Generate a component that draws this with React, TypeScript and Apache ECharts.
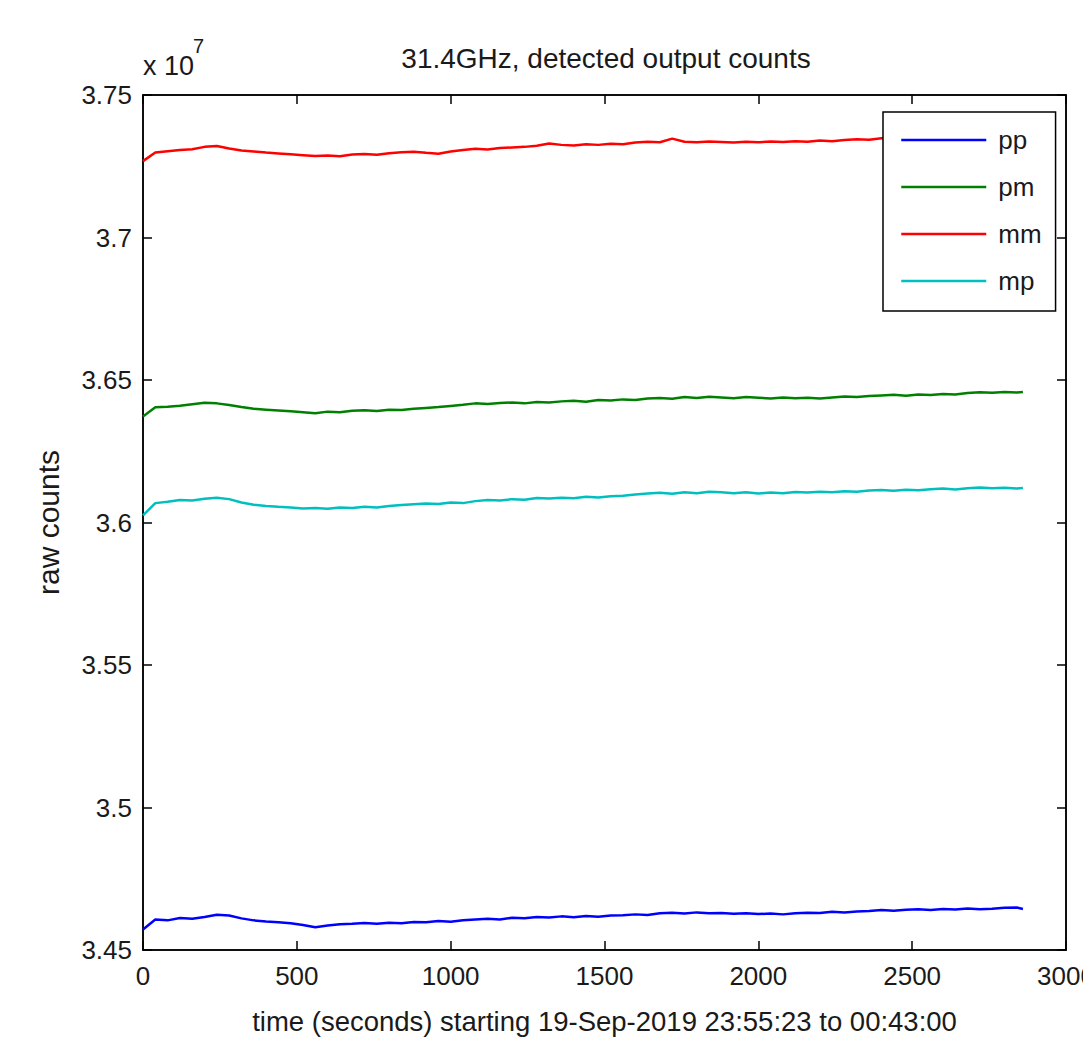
import React, { useEffect, useRef } from "react";
import * as echarts from "echarts";

// time in seconds
const timeSec = [
  0, 40, 80, 120, 160, 200, 240, 280, 320, 360, 400, 440, 480, 520, 560, 600, 640, 680, 720, 760,
  800, 840, 880, 920, 960, 1000, 1040, 1080, 1120, 1160, 1200, 1240, 1280, 1320, 1360, 1400, 1440,
  1480, 1520, 1560, 1600, 1640, 1680, 1720, 1760, 1800, 1840, 1880, 1920, 1960, 2000, 2040, 2080,
  2120, 2160, 2200, 2240, 2280, 2320, 2360, 2400, 2440, 2480, 2520, 2560, 2600, 2640, 2680, 2720,
  2760, 2800, 2840, 2860,
];

// raw counts, in units of 10^7
const ppCounts = [
  3.4572, 3.4607, 3.4604, 3.4612, 3.461, 3.4616, 3.4624, 3.4621, 3.4611, 3.4604, 3.46, 3.4597,
  3.4594, 3.4588, 3.458, 3.4586, 3.459, 3.4592, 3.4595, 3.4592, 3.4596, 3.4594, 3.4598, 3.4597,
  3.4602, 3.4599, 3.4604, 3.4607, 3.461, 3.4607, 3.4613, 3.4611, 3.4616, 3.4614, 3.4618, 3.4615,
  3.4619, 3.4617, 3.4621, 3.4622, 3.4625, 3.4623, 3.4629, 3.4631, 3.4628, 3.4632, 3.4629, 3.463,
  3.4627, 3.4629, 3.4626, 3.4628, 3.4625, 3.4629, 3.4631, 3.463, 3.4634, 3.4632, 3.4635, 3.4637,
  3.464, 3.4638, 3.4641, 3.4643, 3.464, 3.4644, 3.4642, 3.4646, 3.4643, 3.4645, 3.4648, 3.4649,
  3.4644,
];
const pmCounts = [
  3.6372, 3.6404, 3.6406, 3.641, 3.6415, 3.642, 3.6418, 3.6412, 3.6405, 3.6399, 3.6396, 3.6393,
  3.639, 3.6387, 3.6383, 3.6389, 3.6387, 3.6392, 3.6394, 3.6391, 3.6396, 3.6395, 3.6399, 3.6402,
  3.6405, 3.6409, 3.6413, 3.6418, 3.6416, 3.6419, 3.6421, 3.6418, 3.6423, 3.6421, 3.6425, 3.6427,
  3.6424, 3.643, 3.6428, 3.6432, 3.643, 3.6435, 3.6437, 3.6434, 3.644, 3.6437, 3.6441, 3.6439,
  3.6436, 3.644, 3.6438, 3.6435, 3.6439, 3.6436, 3.6438, 3.6435, 3.6439, 3.6442, 3.644, 3.6444,
  3.6446, 3.6448, 3.6445, 3.6449, 3.6447, 3.6451, 3.6449, 3.6454, 3.6457, 3.6455, 3.6458, 3.6456,
  3.6458,
];
const mmCounts = [
  3.7268, 3.7298, 3.7303, 3.7307, 3.731, 3.7318, 3.7321, 3.7312, 3.7305, 3.7302, 3.7298, 3.7295,
  3.7292, 3.7289, 3.7286, 3.7288, 3.7285, 3.7291, 3.7293, 3.729, 3.7296, 3.7299, 3.7301, 3.7297,
  3.7294, 3.7302, 3.7307, 3.7311, 3.7309, 3.7314, 3.7316, 3.7318, 3.7322, 3.733, 3.7325, 3.7323,
  3.7327, 3.7325, 3.7329, 3.7327, 3.7333, 3.7336, 3.7334, 3.7347, 3.7336, 3.7334, 3.7337, 3.7335,
  3.7333, 3.7336, 3.7334, 3.7337, 3.7335, 3.7338, 3.7336, 3.734, 3.7338, 3.7342, 3.7345, 3.7343,
  3.7348, 3.735, 3.7352, 3.7351, 3.7354, 3.7353, 3.7356, 3.7355, 3.7358, 3.7357, 3.7359, 3.736,
  3.7358,
];
const mpCounts = [
  3.6025, 3.6068, 3.6073, 3.6079, 3.6077, 3.6083, 3.6087, 3.6082, 3.607, 3.6062, 3.6058, 3.6055,
  3.6053, 3.6049, 3.6051, 3.6048, 3.6053, 3.6051, 3.6055, 3.6053, 3.6058, 3.6061, 3.6064, 3.6067,
  3.6065, 3.607, 3.6068, 3.6075, 3.6079, 3.6077, 3.6082, 3.608, 3.6086, 3.6084, 3.6087, 3.6085,
  3.609, 3.6088, 3.6092, 3.6094, 3.6098, 3.6102, 3.6104, 3.6101, 3.6106, 3.6103, 3.6108, 3.6106,
  3.6103, 3.6106, 3.6102, 3.6105, 3.6103, 3.6107, 3.6105, 3.6108, 3.6106, 3.611, 3.6108, 3.6112,
  3.6114, 3.6111, 3.6115, 3.6113, 3.6117, 3.6119, 3.6116, 3.612, 3.6123, 3.612, 3.6122, 3.6119,
  3.6121,
];

const seriesNames = ["pp", "pm", "mm", "mp"];
const seriesColors = ["#0000ff", "#008000", "#ff0000", "#00bfbf"];
const seriesValues = [ppCounts, pmCounts, mmCounts, mpCounts];

const FONT = "Liberation Sans, Arial, sans-serif";
const TXT = "#1a1a1a";

export default function App() {
  const ref = useRef<HTMLDivElement>(null);
  useEffect(() => {
    if (!ref.current) return;
    const chart = echarts.init(ref.current, null, { renderer: "svg" });
    const tickStyle = { show: true, inside: true, length: 9, lineStyle: { color: "#000", width: 1.5 } };
    const axisLine = { show: true, onZero: false, lineStyle: { color: "#000", width: 1.5 } };
    chart.setOption({
      animation: false,
      backgroundColor: "#fff",
      title: {
        text: "31.4GHz, detected output counts",
        left: 601,
        textAlign: "center",
        top: 39,
        textStyle: { fontFamily: FONT, fontSize: 28, fontWeight: "normal", color: TXT },
      },
      graphic: [
        {
          type: "text",
          x: 143,
          y: 66,
          style: { text: "x 10", fontFamily: FONT, fontSize: 27, fill: TXT, verticalAlign: "middle", align: "left" },
        },
        {
          type: "text",
          x: 193,
          y: 46,
          style: { text: "7", fontFamily: FONT, fontSize: 20, fill: TXT, verticalAlign: "middle", align: "left" },
        },
      ],
      legend: {
        orient: "vertical",
        left: 883,
        top: 112,
        padding: [15, 14, 17, 17],
        itemWidth: 85,
        itemHeight: 20,
        itemGap: 21,
        backgroundColor: "#fff",
        borderColor: "#000",
        borderWidth: 1.5,
        borderRadius: 0,
        data: seriesNames,
        itemStyle: { opacity: 0 },
        lineStyle: { width: 2.5 },
        textStyle: { fontFamily: FONT, fontSize: 26, color: TXT, padding: [0, 0, 0, 7] },
      },
      grid: {
        left: 143,
        top: 95,
        right: 17,
        bottom: 87,
        show: true,
        borderColor: "#000",
        borderWidth: 1.5,
        containLabel: false,
        outerBoundsMode: "none",
      },
      xAxis: [
        {
          type: "value",
          min: 0,
          max: 3000,
          interval: 500,
          position: "bottom",
          axisLine,
          axisTick: tickStyle,
          splitLine: { show: false },
          axisLabel: { margin: 13, fontFamily: FONT, fontSize: 26, color: TXT, formatter: (v: number) => String(v) },
          name: "time (seconds) starting 19-Sep-2019 23:55:23 to 00:43:00",
          nameLocation: "middle",
          nameGap: 57,
          nameTextStyle: { fontFamily: FONT, fontSize: 27.5, color: TXT },
        },
        {
          type: "value",
          min: 0,
          max: 3000,
          interval: 500,
          position: "top",
          axisLine,
          axisTick: tickStyle,
          splitLine: { show: false },
          axisLabel: { show: false },
        },
      ],
      yAxis: [
        {
          type: "value",
          min: 3.45,
          max: 3.75,
          interval: 0.05,
          position: "left",
          axisLine,
          axisTick: tickStyle,
          splitLine: { show: false },
          axisLabel: { margin: 11, fontFamily: FONT, fontSize: 26, color: TXT },
          name: "raw counts",
          nameLocation: "middle",
          nameGap: 80,
          nameTextStyle: { fontFamily: FONT, fontSize: 30, color: TXT },
        },
        {
          type: "value",
          min: 3.45,
          max: 3.75,
          interval: 0.05,
          position: "right",
          axisLine,
          axisTick: tickStyle,
          splitLine: { show: false },
          axisLabel: { show: false },
        },
      ],
      series: seriesNames.map((name, i) => ({
        name,
        type: "line",
        symbol: "none",
        color: seriesColors[i],
        lineStyle: { color: seriesColors[i], width: 2.5 },
        data: timeSec.map((t, k) => [t, seriesValues[i][k]]),
        z: 2,
      })),
    });
    return () => chart.dispose();
  }, []);
  return (
    <div
      ref={ref}
      style={{ position: "absolute", left: 0, top: 0, width: 1083, height: 1037 }}
    />
  );
}
